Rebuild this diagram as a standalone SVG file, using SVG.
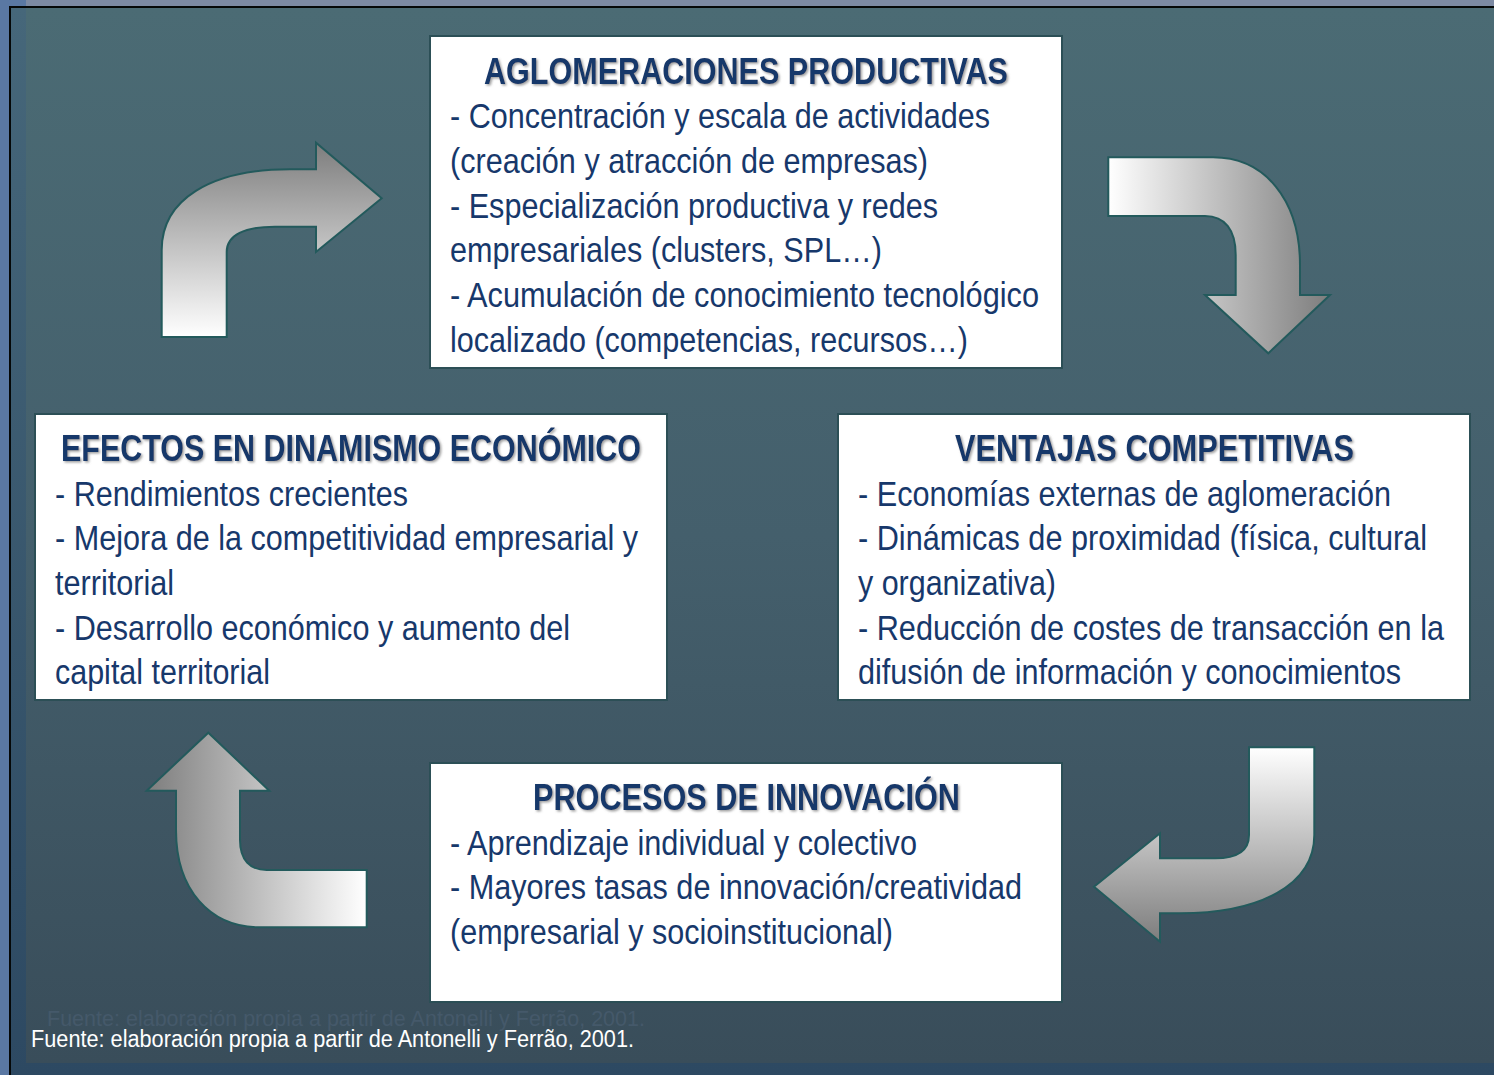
<svg xmlns="http://www.w3.org/2000/svg" width="1494" height="1075" viewBox="0 0 1494 1075">
<defs>
<style>
.box{fill:#ffffff;stroke:#2c4f56;stroke-width:2}
.title{font-family:"Liberation Sans Narrow","Arial Narrow","Liberation Sans",sans-serif;font-weight:bold;font-size:36px;fill:#16386a;filter:url(#sh)}
.body{font-family:"Liberation Sans Narrow","Arial Narrow","Liberation Sans",sans-serif;font-size:35px;fill:#17386b}
.arrow{stroke:#235a5c;stroke-width:2;stroke-linejoin:miter}
.foot{font-family:"Liberation Sans Narrow","Arial Narrow","Liberation Sans",sans-serif;font-size:23px;fill:#ffffff}
.ghost{font-family:"Liberation Sans Narrow","Arial Narrow","Liberation Sans",sans-serif;font-size:22px;fill:#45596a}
</style>
<filter id="sh" x="-5%" y="-20%" width="110%" height="150%">
<feDropShadow dx="1.5" dy="1.5" stdDeviation="0.8" flood-color="#888888" flood-opacity="0.8"/>
</filter>
<linearGradient id="panel" x1="0" y1="0" x2="0" y2="1">
<stop offset="0" stop-color="#4b6b74"/>
<stop offset="0.5" stop-color="#445f6c"/>
<stop offset="1" stop-color="#394d5a"/>
</linearGradient>
<linearGradient id="strip" x1="0" y1="0" x2="0" y2="1">
<stop offset="0" stop-color="#46677a"/>
<stop offset="1" stop-color="#2d4962"/>
</linearGradient>
<linearGradient id="gUp" x1="0" y1="0" x2="0" y2="1">
<stop offset="0" stop-color="#7d7d7d"/>
<stop offset="1" stop-color="#ffffff"/>
</linearGradient>
<linearGradient id="gDown" x1="0" y1="0" x2="0" y2="1">
<stop offset="0" stop-color="#ffffff"/>
<stop offset="1" stop-color="#7d7d7d"/>
</linearGradient>
<linearGradient id="gRight" x1="0" y1="0" x2="1" y2="0">
<stop offset="0" stop-color="#ffffff"/>
<stop offset="1" stop-color="#7d7d7d"/>
</linearGradient>
<linearGradient id="gLeft" x1="0" y1="0" x2="1" y2="0">
<stop offset="0" stop-color="#7d7d7d"/>
<stop offset="1" stop-color="#ffffff"/>
</linearGradient>
</defs>

<!-- background -->
<rect x="0" y="0" width="1494" height="1075" fill="#5a78a3"/>
<rect x="26" y="0" width="1468" height="7" fill="#7c8aa3"/>
<rect x="9" y="6" width="1485" height="1069" fill="#050808"/>
<rect x="11" y="8" width="1483" height="1067" fill="url(#strip)"/>
<rect x="26" y="8" width="1468" height="1055" fill="url(#panel)"/>

<!-- connectors -->
<g id="connectors">
<path class="arrow" fill="url(#gUp)" d="M 161.7 337 L 161.7 250 C 161.7 200 210 169.3 290 169.3 L 316 169.3 L 316 142.7 L 381.7 198.3 L 316 252 L 316 226.7 L 275 226.7 C 245 226.7 226.7 235 226.7 252 L 226.7 337 Z"/>
<path class="arrow" fill="url(#gRight)" d="M 1108.3 157.3 L 1213 157.3 C 1265 157.3 1300 200 1300 265 L 1300 295 L 1330 295 L 1268.3 353.3 L 1205 295 L 1235.7 295 L 1235.7 255 C 1235.7 230 1225 216 1205 216 L 1108.3 216 Z"/>
<path class="arrow" fill="url(#gDown)" d="M 1249 747.3 L 1314.3 747.3 L 1314.3 835 C 1314.3 885 1260 913.3 1180 913.3 L 1160 913.3 L 1160 941.7 L 1094 886.7 L 1160 833.3 L 1160 858.3 L 1215 858.3 C 1238 858.3 1249 850 1249 835 Z"/>
<path class="arrow" fill="url(#gLeft)" d="M 366.7 870 L 366.7 927.3 L 260 927.3 C 210 927.3 176 890 176 830 L 176 790.7 L 146.7 790.7 L 208.3 732.7 L 269.3 790.7 L 240 790.7 L 240 840 C 240 860 250 870 266.7 870 Z"/>
</g>

<!-- nodes -->
<g id="aglomeraciones">
<rect class="box" x="430" y="36" width="632" height="332"/>
<text class="title" x="484" y="84" textLength="524" lengthAdjust="spacingAndGlyphs">AGLOMERACIONES PRODUCTIVAS</text>
<text class="body" x="450" y="128" textLength="540" lengthAdjust="spacingAndGlyphs">- Concentración y escala de actividades</text>
<text class="body" x="450" y="173" textLength="478" lengthAdjust="spacingAndGlyphs">(creación y atracción de empresas)</text>
<text class="body" x="450" y="218" textLength="488" lengthAdjust="spacingAndGlyphs">- Especialización productiva y redes</text>
<text class="body" x="450" y="262" textLength="432" lengthAdjust="spacingAndGlyphs">empresariales (clusters, SPL…)</text>
<text class="body" x="450" y="307" textLength="589" lengthAdjust="spacingAndGlyphs">- Acumulación de conocimiento tecnológico</text>
<text class="body" x="450" y="352" textLength="518" lengthAdjust="spacingAndGlyphs">localizado (competencias, recursos…)</text>
</g>

<g id="efectos">
<rect class="box" x="35" y="414" width="632" height="286"/>
<text class="title" x="61" y="461" textLength="580" lengthAdjust="spacingAndGlyphs">EFECTOS EN DINAMISMO ECONÓMICO</text>
<text class="body" x="55" y="506" textLength="353" lengthAdjust="spacingAndGlyphs">- Rendimientos crecientes</text>
<text class="body" x="55" y="550" textLength="583" lengthAdjust="spacingAndGlyphs">- Mejora de la competitividad empresarial y</text>
<text class="body" x="55" y="595" textLength="119" lengthAdjust="spacingAndGlyphs">territorial</text>
<text class="body" x="55" y="640" textLength="515" lengthAdjust="spacingAndGlyphs">- Desarrollo económico y aumento del</text>
<text class="body" x="55" y="684" textLength="215" lengthAdjust="spacingAndGlyphs">capital territorial</text>
</g>

<g id="ventajas">
<rect class="box" x="838" y="414" width="632" height="286"/>
<text class="title" x="955" y="461" textLength="399" lengthAdjust="spacingAndGlyphs">VENTAJAS COMPETITIVAS</text>
<text class="body" x="858" y="506" textLength="533" lengthAdjust="spacingAndGlyphs">- Economías externas de aglomeración</text>
<text class="body" x="858" y="550" textLength="569" lengthAdjust="spacingAndGlyphs">- Dinámicas de proximidad (física, cultural</text>
<text class="body" x="858" y="595" textLength="198" lengthAdjust="spacingAndGlyphs">y organizativa)</text>
<text class="body" x="858" y="640" textLength="586" lengthAdjust="spacingAndGlyphs">- Reducción de costes de transacción en la</text>
<text class="body" x="858" y="684" textLength="543" lengthAdjust="spacingAndGlyphs">difusión de información y conocimientos</text>
</g>

<g id="procesos">
<rect class="box" x="430" y="763" width="632" height="239"/>
<text class="title" x="533" y="810" textLength="427" lengthAdjust="spacingAndGlyphs">PROCESOS DE INNOVACIÓN</text>
<text class="body" x="450" y="855" textLength="467" lengthAdjust="spacingAndGlyphs">- Aprendizaje individual y colectivo</text>
<text class="body" x="450" y="899" textLength="572" lengthAdjust="spacingAndGlyphs">- Mayores tasas de innovación/creatividad</text>
<text class="body" x="450" y="944" textLength="443" lengthAdjust="spacingAndGlyphs">(empresarial y socioinstitucional)</text>
</g>

<!-- footer -->
<text class="ghost" x="47" y="1026" textLength="598" lengthAdjust="spacingAndGlyphs">Fuente: elaboración propia a partir de Antonelli y Ferrão, 2001.</text>
<text class="foot" x="31" y="1047" textLength="603" lengthAdjust="spacingAndGlyphs">Fuente: elaboración propia a partir de Antonelli y Ferrão, 2001.</text>
</svg>
